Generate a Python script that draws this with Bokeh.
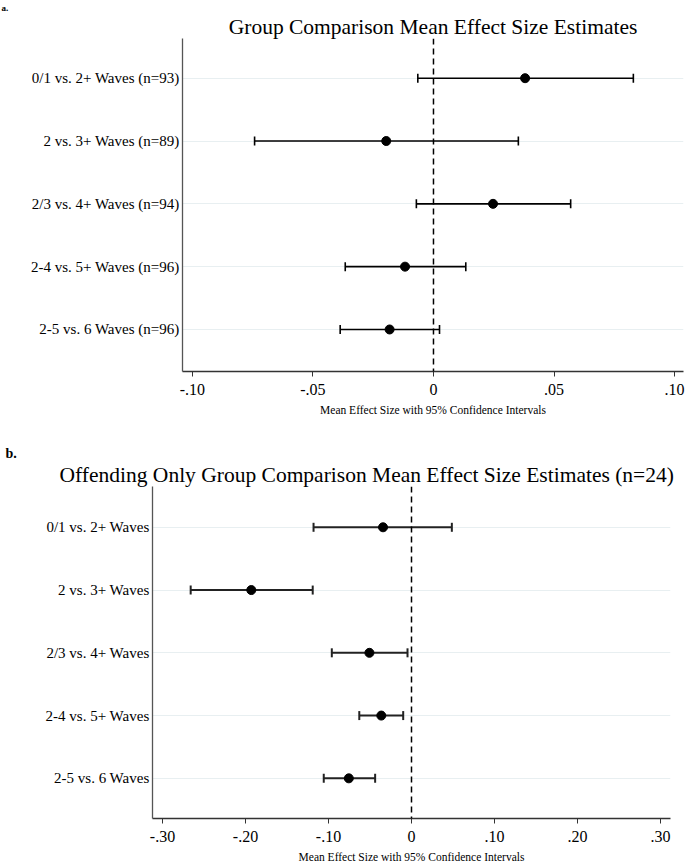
from bokeh.plotting import figure
from bokeh.models import (Range1d, FixedTicker, Span, Whisker, TeeHead, Title,
                          ColumnDataSource)
from bokeh.embed import file_html
from bokeh.resources import INLINE

# ---------------- data ----------------
rows = [1, 2, 3, 4, 5]

labels_a = ["0/1 vs. 2+ Waves (n=93)", "2 vs. 3+ Waves (n=89)",
            "2/3 vs. 4+ Waves (n=94)", "2-4 vs. 5+ Waves (n=96)",
            "2-5 vs. 6 Waves (n=96)"]
mean_a = [0.038, -0.0196, 0.0247, -0.0118, -0.0182]
lower_a = [-0.0065, -0.0742, -0.0071, -0.0366, -0.0387]
upper_a = [0.0829, 0.0352, 0.0569, 0.0134, 0.0025]
ticks_a = [-0.1, -0.05, 0, 0.05, 0.1]
tick_labels_a = ["-.10", "-.05", "0", ".05", ".10"]

labels_b = ["0/1 vs. 2+ Waves", "2 vs. 3+ Waves", "2/3 vs. 4+ Waves",
            "2-4 vs. 5+ Waves", "2-5 vs. 6 Waves"]
mean_b = [-0.0343, -0.193, -0.0507, -0.0364, -0.0755]
lower_b = [-0.118, -0.266, -0.096, -0.0629, -0.1057]
upper_b = [0.0486, -0.119, -0.0048, -0.010, -0.0438]
ticks_b = [-0.3, -0.2, -0.1, 0, 0.1, 0.2, 0.3]
tick_labels_b = ["-.30", "-.20", "-.10", "0", ".10", ".20", ".30"]

title_a = "Group Comparison Mean Effect Size Estimates"
title_b = "Offending Only Group Comparison Mean Effect Size Estimates (n=24)"
xlabel = "Mean Effect Size with 95% Confidence Intervals"

FONT = "Liberation Serif"


def make_panel(labels, mean, lower, upper, ticks, tick_labels, xr, yr, height,
               mb_left, mb_right, mb_top, mb_bottom, err_color, err_width,
               tag, tag_offset, tag_size, title, title_align,
               title_offset, title_standoff):
    p = figure(width=685, height=height, output_backend="svg",
               toolbar_location=None, x_range=Range1d(*xr),
               y_range=Range1d(*yr),
               min_border_left=mb_left, min_border_right=mb_right,
               min_border_top=mb_top, min_border_bottom=mb_bottom)
    p.outline_line_color = None
    p.background_fill_color = "white"
    p.border_fill_color = "white"

    # panel tag (outermost title) and main title (next to the frame)
    p.title.text = tag
    p.title.text_font = FONT
    p.title.text_font_size = tag_size
    p.title.text_font_style = "bold"
    p.title.text_color = "black"
    p.title.align = "left"
    p.title.offset = tag_offset
    p.title.standoff = 0
    p.add_layout(Title(text=title, text_font=FONT, text_font_size="21.5px",
                       text_font_style="normal", text_color="black",
                       align=title_align, offset=title_offset,
                       standoff=title_standoff), "above")

    # grids
    p.xgrid.visible = False
    p.ygrid.ticker = FixedTicker(ticks=rows)
    p.ygrid.grid_line_color = "#e8eff1"
    p.ygrid.grid_line_width = 1.2

    # y axis
    ya = p.yaxis[0]
    ya.ticker = FixedTicker(ticks=rows)
    ya.major_label_overrides = {r: l for r, l in zip(rows, labels)}
    ya.major_tick_out = 0
    ya.major_tick_in = 0
    ya.minor_tick_out = 0
    ya.minor_tick_in = 0
    ya.major_label_standoff = 3
    ya.major_label_text_font = FONT
    ya.major_label_text_font_size = "15px"
    ya.major_label_text_color = "black"
    ya.axis_line_color = "#555555"
    ya.axis_line_width = 1.3

    # x axis
    xa = p.xaxis[0]
    xa.ticker = FixedTicker(ticks=ticks)
    xa.major_label_overrides = {t: l for t, l in zip(ticks, tick_labels)}
    xa.major_tick_out = 5
    xa.major_tick_in = 0
    xa.minor_tick_out = 0
    xa.minor_tick_in = 0
    xa.major_tick_line_color = "#333333"
    xa.major_label_standoff = 7
    xa.major_label_text_font = FONT
    xa.major_label_text_font_size = "16px"
    xa.major_label_text_color = "black"
    xa.axis_line_color = "#333333"
    xa.axis_line_width = 1.3
    xa.axis_label = xlabel
    xa.axis_label_text_font = FONT
    xa.axis_label_text_font_size = "11.5px"
    xa.axis_label_text_font_style = "normal"
    xa.axis_label_text_color = "black"
    xa.axis_label_standoff = 6

    # zero reference line
    p.add_layout(Span(location=0, dimension="height", line_color="black",
                      line_width=1.5, line_dash="6 4"))

    src = ColumnDataSource(dict(row=rows, mean=mean, lower=lower, upper=upper))
    p.add_layout(Whisker(source=src, base="row", lower="lower", upper="upper",
                         dimension="width", line_color=err_color,
                         line_width=err_width,
                         lower_head=TeeHead(size=9, line_color=err_color,
                                            line_width=err_width),
                         upper_head=TeeHead(size=9, line_color=err_color,
                                            line_width=err_width)))
    p.scatter(x="mean", y="row", source=src, size=9, color="black")
    return p


pa = make_panel(labels_a, mean_a, lower_a, upper_a, ticks_a, tick_labels_a,
                (-0.1041, 0.1037), (5.669, 0.368), 440, 182, 2, 36, 69,
                "black", 1.6, "a.", -181, "9px", title_a, "center", 0, 0)

pb = make_panel(labels_b, mean_b, lower_b, upper_b, ticks_b, tick_labels_b,
                (-0.312, 0.312), (5.64, 0.35), 425, 152, 15, 46, 46,
                "#222222", 2.0, "b.", -147, "14px", title_b, "left", -93, 0)

open("out.html", "w").write(file_html([pa, pb], INLINE))
